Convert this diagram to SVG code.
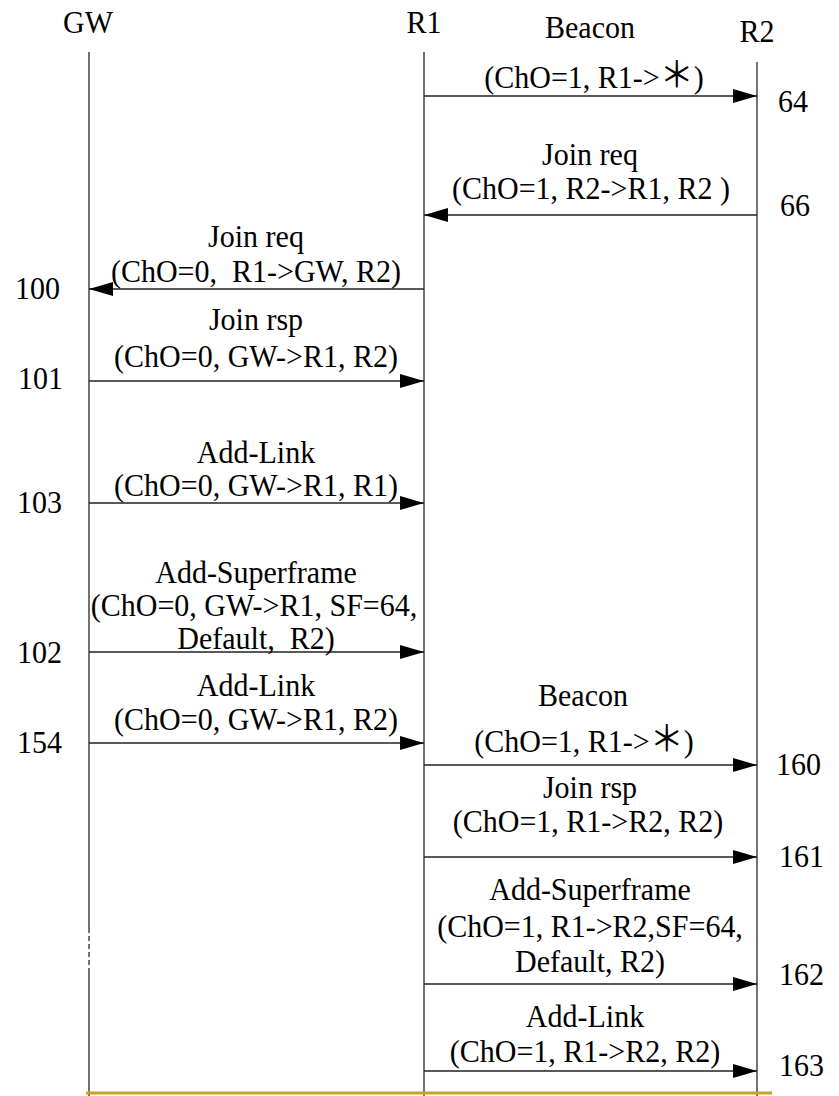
<svg xmlns="http://www.w3.org/2000/svg" width="839" height="1096" viewBox="0 0 839 1096">
<style>
.t{font-family:"Liberation Serif","Noto Sans CJK SC",serif;font-size:30px;fill:#000}
.m{text-anchor:middle}
.s{font-size:34px}
.life{stroke:#444;stroke-width:1.5;fill:none}
.msg{stroke:#222;stroke-width:1.3;fill:none}
</style>
<defs>
<marker id="ah" markerUnits="userSpaceOnUse" markerWidth="24" markerHeight="14" refX="24" refY="7" orient="auto">
<path d="M0,0 L24,7 L0,14 z" fill="#000"/>
</marker>
</defs>
<rect width="839" height="1096" fill="#fff"/>
<g id="GW">
<text class="t m" transform="translate(88,33) scale(1,1.06)">GW</text>
<path class="life" d="M89,52 V928 M89,968 V1096"/>
<path class="life" d="M89,928 V968" stroke-dasharray="5 3"/>
</g>
<g id="R1">
<text class="t m" transform="translate(424,33) scale(1,1.06)">R1</text>
<path class="life" d="M424,52 V1096"/>
</g>
<g id="R2">
<text class="t m" transform="translate(757,42) scale(1,1.06)">R2</text>
<path class="life" d="M757,62 V1096"/>
</g>
<g id="connectors">
<line class="msg" x1="424" y1="96" x2="757" y2="96" marker-end="url(#ah)"/>
<line class="msg" x1="757" y1="215" x2="424" y2="215" marker-end="url(#ah)"/>
<line class="msg" x1="424" y1="289" x2="89" y2="289" marker-end="url(#ah)"/>
<line class="msg" x1="89" y1="381" x2="424" y2="381" marker-end="url(#ah)"/>
<line class="msg" x1="89" y1="503" x2="424" y2="503" marker-end="url(#ah)"/>
<line class="msg" x1="89" y1="652" x2="424" y2="652" marker-end="url(#ah)"/>
<line class="msg" x1="89" y1="743" x2="424" y2="743" marker-end="url(#ah)"/>
<line class="msg" x1="424" y1="765" x2="757" y2="765" marker-end="url(#ah)"/>
<line class="msg" x1="424" y1="857" x2="757" y2="857" marker-end="url(#ah)"/>
<line class="msg" x1="424" y1="984" x2="757" y2="984" marker-end="url(#ah)"/>
<line class="msg" x1="424" y1="1071" x2="757" y2="1071" marker-end="url(#ah)"/>
</g>
<g id="labels">
<text class="t m" transform="translate(590,38) scale(1,1.06)">Beacon</text>
<text class="t m" transform="translate(594,88) scale(1,1.06)">(ChO=1, R1-&gt;<tspan class="s">＊</tspan>)</text>
<text class="t m" transform="translate(590,165) scale(1,1.06)">Join req</text>
<text class="t m" transform="translate(591,199) scale(1,1.06)">(ChO=1, R2-&gt;R1, R2 )</text>
<text class="t m" transform="translate(256,247) scale(1,1.06)">Join req</text>
<text class="t m" transform="translate(256,282) scale(1,1.06)">(ChO=0, &#160;R1-&gt;GW, R2)</text>
<text class="t m" transform="translate(256,330) scale(1,1.06)">Join rsp</text>
<text class="t m" transform="translate(256,367) scale(1,1.06)">(ChO=0, GW-&gt;R1, R2)</text>
<text class="t m" transform="translate(256,463) scale(1,1.06)">Add-Link</text>
<text class="t m" transform="translate(256,496) scale(1,1.06)">(ChO=0, GW-&gt;R1, R1)</text>
<text class="t m" transform="translate(256,583) scale(1,1.06)">Add-Superframe</text>
<text class="t m" transform="translate(254,616) scale(1,1.06)">(ChO=0, GW-&gt;R1, SF=64,</text>
<text class="t m" transform="translate(256,649) scale(1,1.06)">Default, &#160;R2)</text>
<text class="t m" transform="translate(256,696) scale(1,1.06)">Add-Link</text>
<text class="t m" transform="translate(256,730) scale(1,1.06)">(ChO=0, GW-&gt;R1, R2)</text>
<text class="t m" transform="translate(583,706) scale(1,1.06)">Beacon</text>
<text class="t m" transform="translate(584,752) scale(1,1.06)">(ChO=1, R1-&gt;<tspan class="s">＊</tspan>)</text>
<text class="t m" transform="translate(590,798) scale(1,1.06)">Join rsp</text>
<text class="t m" transform="translate(588,832) scale(1,1.06)">(ChO=1, R1-&gt;R2, R2)</text>
<text class="t m" transform="translate(590,900) scale(1,1.06)">Add-Superframe</text>
<text class="t m" transform="translate(590,937) scale(1,1.06)">(ChO=1, R1-&gt;R2,SF=64,</text>
<text class="t m" transform="translate(590,972) scale(1,1.06)">Default, R2)</text>
<text class="t m" transform="translate(585,1027) scale(1,1.06)">Add-Link</text>
<text class="t m" transform="translate(585,1062) scale(1,1.06)">(ChO=1, R1-&gt;R2, R2)</text>
</g>
<g id="numbers">
<text class="t" transform="translate(778,112) scale(1,1.06)">64</text>
<text class="t" transform="translate(780,216) scale(1,1.06)">66</text>
<text class="t" transform="translate(15,299) scale(1,1.06)">100</text>
<text class="t" transform="translate(18,389) scale(1,1.06)">101</text>
<text class="t" transform="translate(17,513) scale(1,1.06)">103</text>
<text class="t" transform="translate(17,663) scale(1,1.06)">102</text>
<text class="t" transform="translate(17,753) scale(1,1.06)">154</text>
<text class="t" transform="translate(776,775) scale(1,1.06)">160</text>
<text class="t" transform="translate(779,867) scale(1,1.06)">161</text>
<text class="t" transform="translate(779,985) scale(1,1.06)">162</text>
<text class="t" transform="translate(779,1076) scale(1,1.06)">163</text>
</g>
<line id="baseline" x1="86" y1="1093" x2="772" y2="1093" stroke="#c8a02c" stroke-width="3"/>
</svg>
